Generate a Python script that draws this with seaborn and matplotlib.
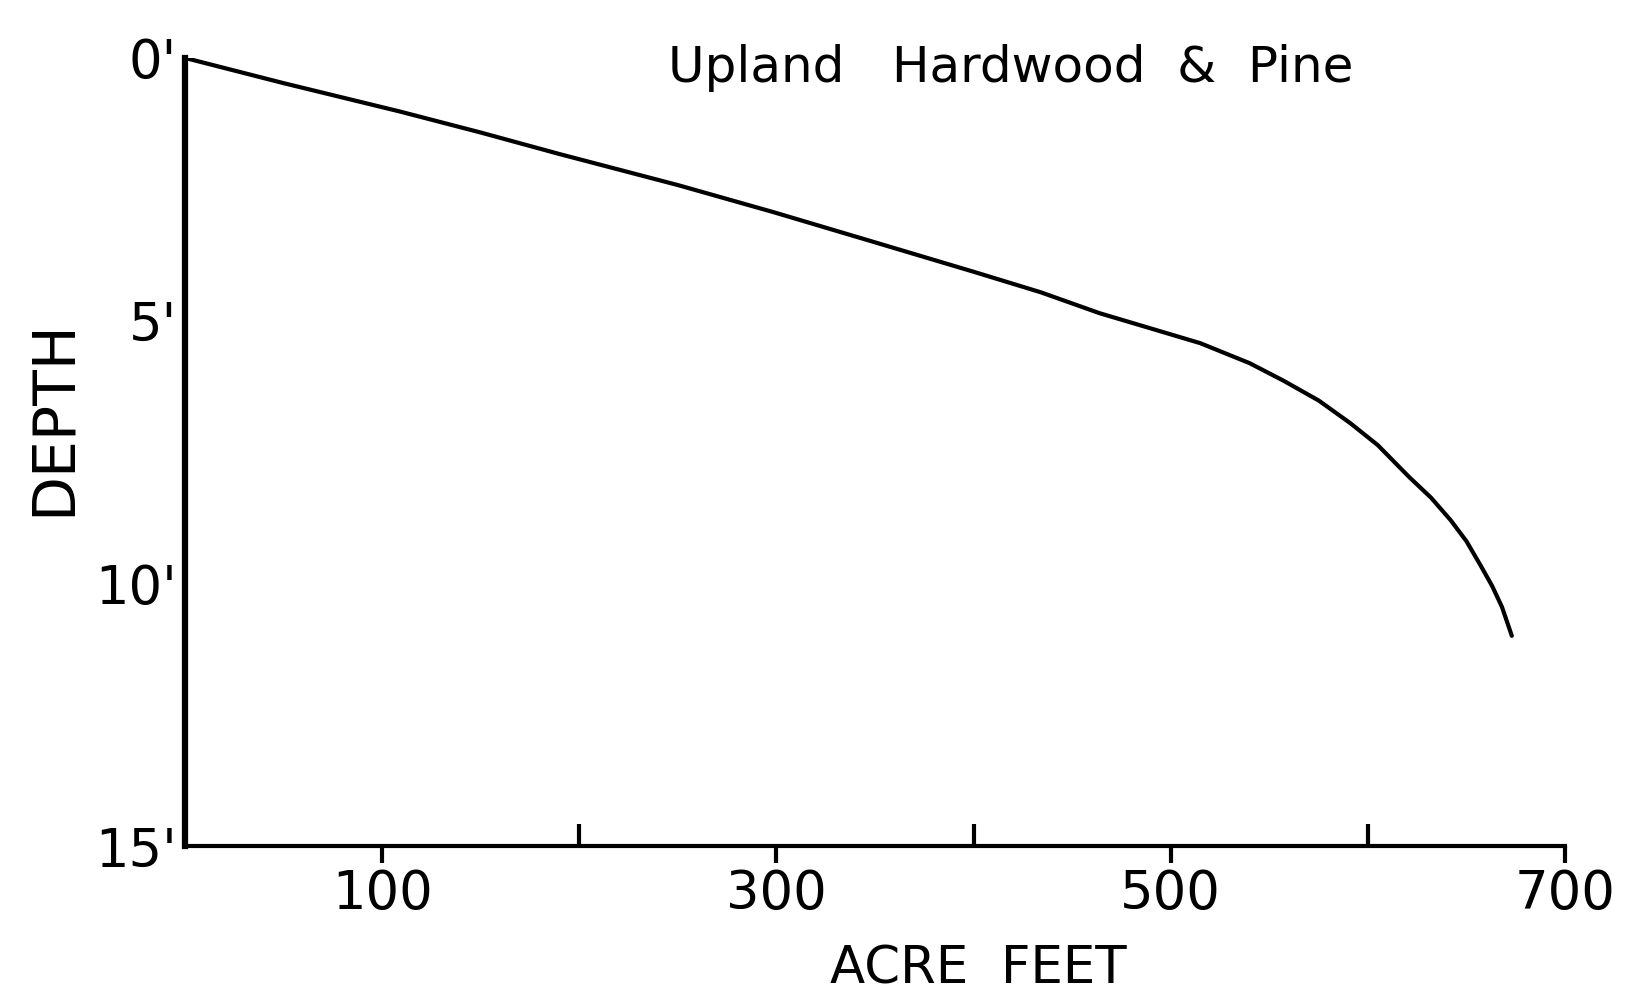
import numpy as np
import pandas as pd
import matplotlib
matplotlib.use('Agg')
import matplotlib.pyplot as plt
import seaborn as sns
from matplotlib.ticker import FixedLocator

# Storage curve
acre_feet = [0, 50, 109, 150, 190, 250, 298, 350, 400, 434, 464, 490, 515,
             540, 557, 575, 591, 605, 621, 632, 642, 650, 657, 663, 668, 673]
depth_ft = [0, 0.48, 1.02, 1.42, 1.83, 2.42, 2.93, 3.51, 4.07, 4.46, 4.86,
            5.15, 5.43, 5.81, 6.14, 6.52, 6.95, 7.37, 7.98, 8.37, 8.8, 9.2,
            9.65, 10.05, 10.45, 11.0]

x_major = [100, 300, 500, 700]
x_minor = [200, 400, 600, 700]
y_ticks = [0, 5, 10, 15]
y_labels = ["0'", "5'", "10'", "15'"]
title_text = 'Upland   Hardwood  &  Pine'

df = pd.DataFrame({'acre_feet': acre_feet, 'depth': depth_ft})

sns.set_theme(style='white')
plt.rcParams['font.family'] = ['DejaVu Sans']
plt.rcParams['text.color'] = 'black'
plt.rcParams['axes.labelcolor'] = 'black'
plt.rcParams['xtick.color'] = 'black'
plt.rcParams['ytick.color'] = 'black'

fig = plt.figure(figsize=(16.4, 9.92), dpi=100)
ax = fig.add_axes([0.1128, 0.1472, 0.8415, 0.7944])

sns.lineplot(data=df, x='acre_feet', y='depth', color='black', lw=3, ax=ax,
             sort=False)

ax.set_xlim(0, 700)
ax.set_ylim(15, 0)

for s in ['top', 'right']:
    ax.spines[s].set_visible(False)
ax.spines['left'].set_linewidth(4.5)
ax.spines['bottom'].set_linewidth(3)
ax.spines['left'].set_color('black')
ax.spines['bottom'].set_color('black')

ax.xaxis.set_major_locator(FixedLocator(x_major))
ax.xaxis.set_minor_locator(FixedLocator(x_minor))
ax.set_xticklabels([str(v) for v in x_major], fontsize=38)
ax.tick_params(axis='x', which='major', direction='out', length=12, width=3,
               pad=4, bottom=True)
ax.tick_params(axis='x', which='minor', direction='in', length=16, width=3,
               bottom=True)

ax.set_yticks(y_ticks)
ax.set_yticklabels(y_labels, fontsize=38)
ax.tick_params(axis='y', which='major', length=0, pad=6, left=True)

ax.set_xlabel('ACRE  FEET', fontsize=37)
ax.xaxis.set_label_coords(0.575, -0.1256)
ax.set_ylabel('DEPTH', fontsize=42)
ax.yaxis.set_label_coords(-0.0746, 0.543)

ax.text(419, 0.2, title_text, fontsize=36, ha='center', va='center')

fig.savefig('out.png', dpi=100, facecolor='white')
